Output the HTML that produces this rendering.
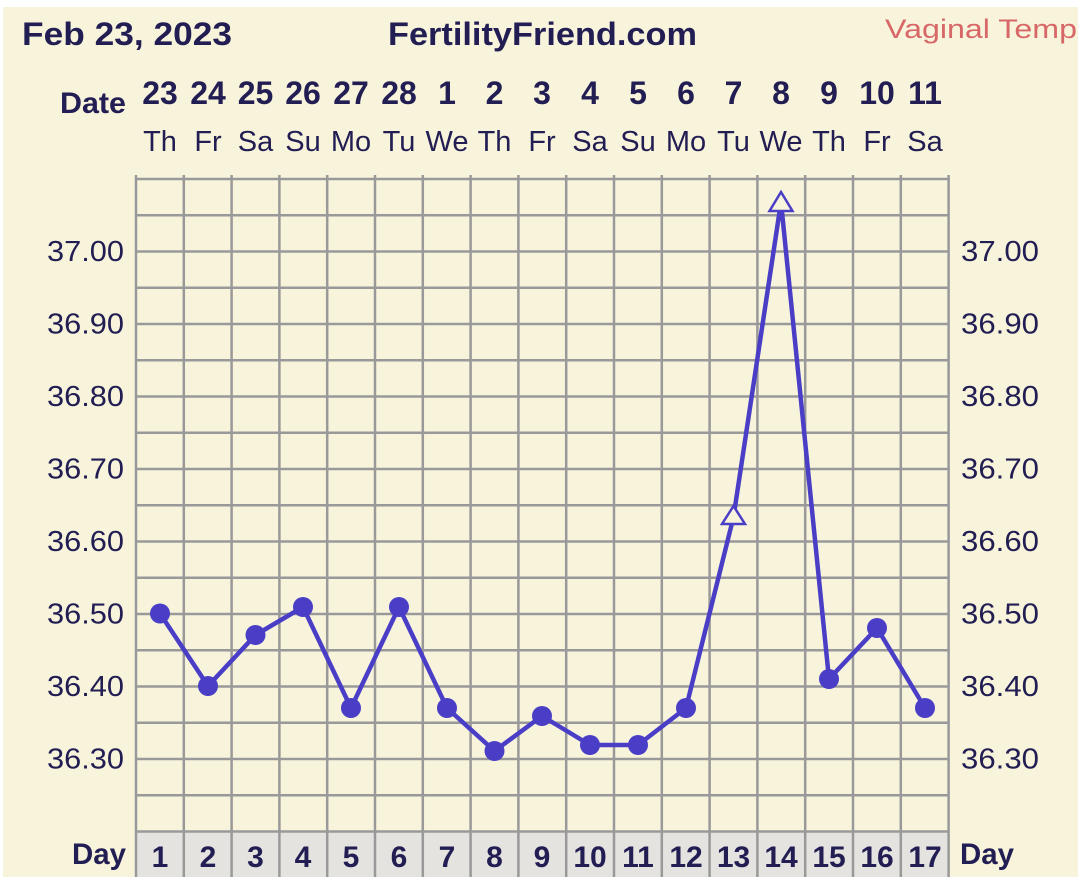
<!DOCTYPE html>
<html><head><meta charset="utf-8"><style>
html,body{margin:0;padding:0;background:#fff;}
svg{display:block;}
</style></head><body>
<svg width="1080" height="877" viewBox="0 0 1080 877" xmlns="http://www.w3.org/2000/svg">
<rect x="3" y="7" width="1075" height="870" fill="#f8f4dc"/>
<rect x="136" y="832" width="813" height="45" fill="#e4e3df"/>
<g stroke="#999" stroke-width="2.5">
<line x1="136" y1="179" x2="949" y2="179"/><line x1="136" y1="215.25" x2="949" y2="215.25"/><line x1="136" y1="251.5" x2="949" y2="251.5"/><line x1="136" y1="287.75" x2="949" y2="287.75"/><line x1="136" y1="324" x2="949" y2="324"/><line x1="136" y1="360.25" x2="949" y2="360.25"/><line x1="136" y1="396.5" x2="949" y2="396.5"/><line x1="136" y1="432.75" x2="949" y2="432.75"/><line x1="136" y1="469" x2="949" y2="469"/><line x1="136" y1="505.25" x2="949" y2="505.25"/><line x1="136" y1="541.5" x2="949" y2="541.5"/><line x1="136" y1="577.75" x2="949" y2="577.75"/><line x1="136" y1="614" x2="949" y2="614"/><line x1="136" y1="650.25" x2="949" y2="650.25"/><line x1="136" y1="686.5" x2="949" y2="686.5"/><line x1="136" y1="722.75" x2="949" y2="722.75"/><line x1="136" y1="759" x2="949" y2="759"/><line x1="136" y1="795.25" x2="949" y2="795.25"/><line x1="136" y1="831.5" x2="949" y2="831.5"/>
<line x1="136" y1="175" x2="136" y2="877"/><line x1="183.8" y1="175" x2="183.8" y2="877"/><line x1="231.6" y1="175" x2="231.6" y2="877"/><line x1="279.4" y1="175" x2="279.4" y2="877"/><line x1="327.2" y1="175" x2="327.2" y2="877"/><line x1="375" y1="175" x2="375" y2="877"/><line x1="422.8" y1="175" x2="422.8" y2="877"/><line x1="470.6" y1="175" x2="470.6" y2="877"/><line x1="518.4" y1="175" x2="518.4" y2="877"/><line x1="566.2" y1="175" x2="566.2" y2="877"/><line x1="614" y1="175" x2="614" y2="877"/><line x1="661.8" y1="175" x2="661.8" y2="877"/><line x1="709.6" y1="175" x2="709.6" y2="877"/><line x1="757.4" y1="175" x2="757.4" y2="877"/><line x1="805.2" y1="175" x2="805.2" y2="877"/><line x1="853" y1="175" x2="853" y2="877"/><line x1="900.8" y1="175" x2="900.8" y2="877"/><line x1="948.6" y1="175" x2="948.6" y2="877"/>
</g>
<g font-family="Liberation Sans, sans-serif" fill="#221d52">
<text x="22" y="45" font-size="32" font-weight="bold" textLength="210" lengthAdjust="spacingAndGlyphs">Feb 23, 2023</text>
<text x="388" y="45" font-size="32" font-weight="bold" textLength="309" lengthAdjust="spacingAndGlyphs">FertilityFriend.com</text>
<text x="885" y="38" font-size="27" fill="#d86868" textLength="192" lengthAdjust="spacingAndGlyphs">Vaginal Temp</text>
<text x="60" y="113" font-size="30" font-weight="bold" textLength="66" lengthAdjust="spacingAndGlyphs">Date</text>
<g font-size="32" font-weight="bold" text-anchor="middle">
<text x="160" y="104">23</text><text x="208" y="104">24</text><text x="255.5" y="104">25</text><text x="303" y="104">26</text><text x="351" y="104">27</text><text x="399" y="104">28</text><text x="447" y="104">1</text><text x="494.5" y="104">2</text><text x="542" y="104">3</text><text x="590" y="104">4</text><text x="638" y="104">5</text><text x="686" y="104">6</text><text x="733.5" y="104">7</text><text x="781" y="104">8</text><text x="829" y="104">9</text><text x="877" y="104">10</text><text x="925" y="104">11</text>
</g>
<g font-size="29" text-anchor="middle">
<text x="160" y="151">Th</text><text x="208" y="151">Fr</text><text x="255.5" y="151">Sa</text><text x="303" y="151">Su</text><text x="351" y="151">Mo</text><text x="399" y="151">Tu</text><text x="447" y="151">We</text><text x="494.5" y="151">Th</text><text x="542" y="151">Fr</text><text x="590" y="151">Sa</text><text x="638" y="151">Su</text><text x="686" y="151">Mo</text><text x="733.5" y="151">Tu</text><text x="781" y="151">We</text><text x="829" y="151">Th</text><text x="877" y="151">Fr</text><text x="925" y="151">Sa</text>
</g>
<g font-size="29">
<text x="47" y="261" textLength="77" lengthAdjust="spacingAndGlyphs">37.00</text><text x="47" y="333.5" textLength="77" lengthAdjust="spacingAndGlyphs">36.90</text><text x="47" y="406" textLength="77" lengthAdjust="spacingAndGlyphs">36.80</text><text x="47" y="478.5" textLength="77" lengthAdjust="spacingAndGlyphs">36.70</text><text x="47" y="551" textLength="77" lengthAdjust="spacingAndGlyphs">36.60</text><text x="47" y="623.5" textLength="77" lengthAdjust="spacingAndGlyphs">36.50</text><text x="47" y="696" textLength="77" lengthAdjust="spacingAndGlyphs">36.40</text><text x="47" y="768.5" textLength="77" lengthAdjust="spacingAndGlyphs">36.30</text>
</g>
<g font-size="29">
<text x="961" y="261" textLength="78" lengthAdjust="spacingAndGlyphs">37.00</text><text x="961" y="333.5" textLength="78" lengthAdjust="spacingAndGlyphs">36.90</text><text x="961" y="406" textLength="78" lengthAdjust="spacingAndGlyphs">36.80</text><text x="961" y="478.5" textLength="78" lengthAdjust="spacingAndGlyphs">36.70</text><text x="961" y="551" textLength="78" lengthAdjust="spacingAndGlyphs">36.60</text><text x="961" y="623.5" textLength="78" lengthAdjust="spacingAndGlyphs">36.50</text><text x="961" y="696" textLength="78" lengthAdjust="spacingAndGlyphs">36.40</text><text x="961" y="768.5" textLength="78" lengthAdjust="spacingAndGlyphs">36.30</text>
</g>
<text x="72" y="864" font-size="30" font-weight="bold" textLength="54" lengthAdjust="spacingAndGlyphs">Day</text>
<text x="960" y="864" font-size="30" font-weight="bold" textLength="54" lengthAdjust="spacingAndGlyphs">Day</text>
<g font-size="30" font-weight="bold" text-anchor="middle">
<text x="160" y="867">1</text><text x="208" y="867">2</text><text x="255.5" y="867">3</text><text x="303" y="867">4</text><text x="351" y="867">5</text><text x="399" y="867">6</text><text x="447" y="867">7</text><text x="494.5" y="867">8</text><text x="542" y="867">9</text><text x="590" y="867">10</text><text x="638" y="867">11</text><text x="686" y="867">12</text><text x="733.5" y="867">13</text><text x="781" y="867">14</text><text x="829" y="867">15</text><text x="877" y="867">16</text><text x="925" y="867">17</text>
</g>
</g>
<polyline fill="none" stroke="#4a3ec6" stroke-width="4.5" stroke-linejoin="round" points="160,613.5 208,686 255.5,635 303,607 351,708 399,607 447,708 494.5,751 542,716 590,745 638,745 686,708 733.5,517 781,202 829,679 877,628 925,708"/>
<g fill="#4a3ec6">
<circle cx="160" cy="613.5" r="10"/><circle cx="208" cy="686" r="10"/><circle cx="255.5" cy="635" r="10"/><circle cx="303" cy="607" r="10"/><circle cx="351" cy="708" r="10"/><circle cx="399" cy="607" r="10"/><circle cx="447" cy="708" r="10"/><circle cx="494.5" cy="751" r="10"/><circle cx="542" cy="716" r="10"/><circle cx="590" cy="745" r="10"/><circle cx="638" cy="745" r="10"/><circle cx="686" cy="708" r="10"/><circle cx="829" cy="679" r="10"/><circle cx="877" cy="628" r="10"/><circle cx="925" cy="708" r="10"/>
</g>
<g fill="#f8f4dc" stroke="#4a3ec6" stroke-width="2.5">
<polygon points="733.5,506 745,524 722,524"/>
<polygon points="781,192 792.5,211 769.5,211"/>
</g>
</svg>
</body></html>
